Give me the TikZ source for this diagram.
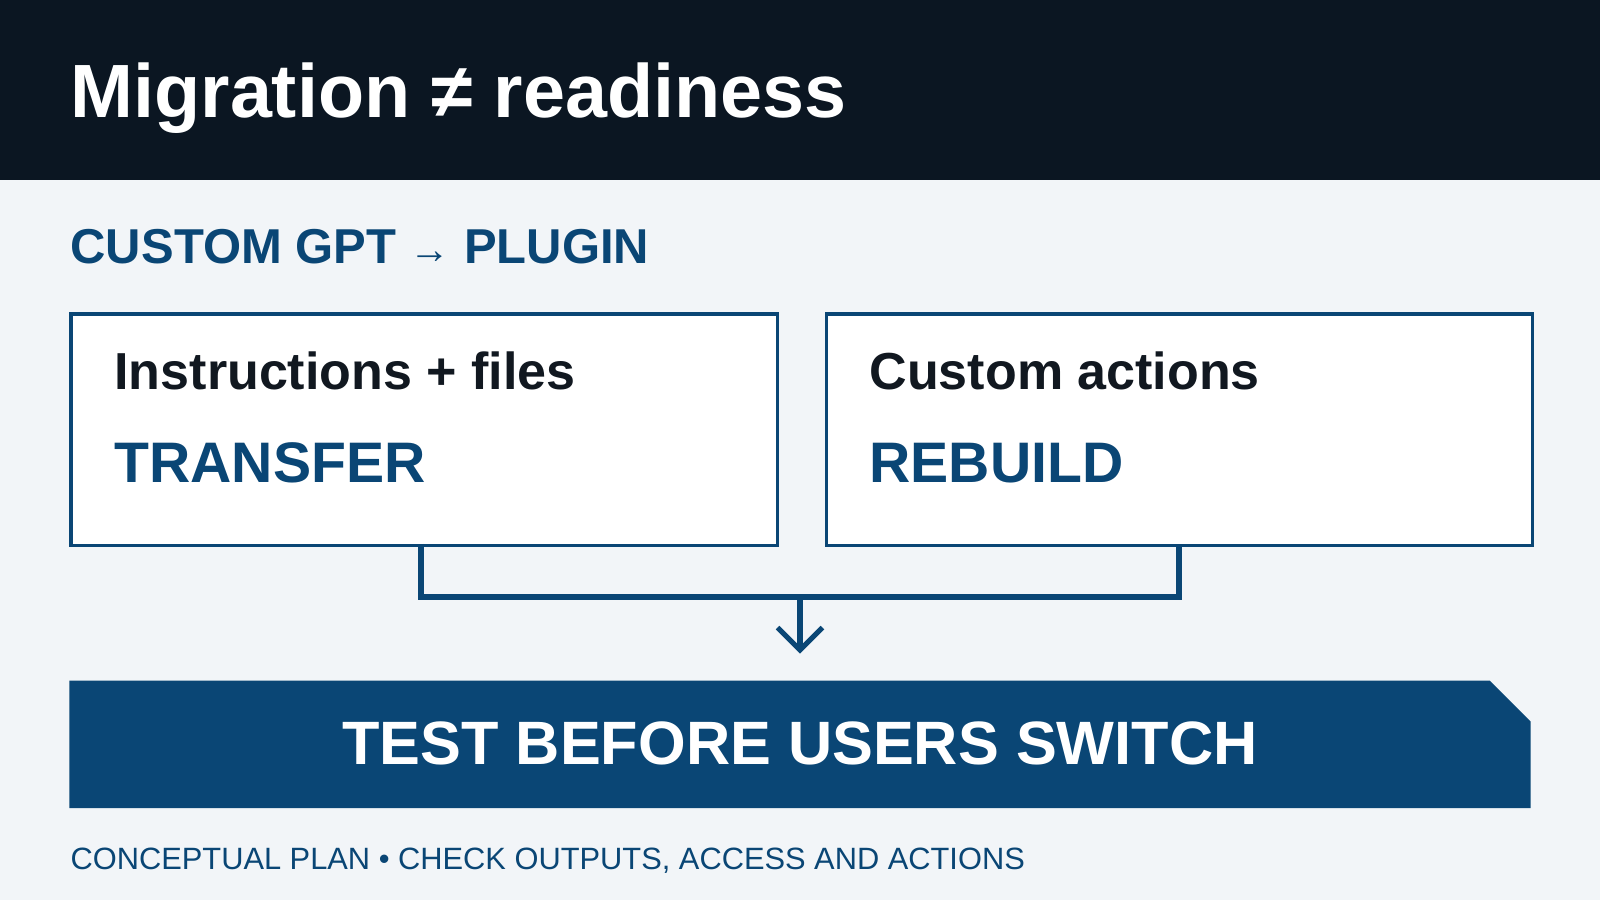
\documentclass[tikz,border=0pt]{standalone}
\usepackage{fontspec}
\setmainfont{Liberation Sans}
\definecolor{bg}{HTML}{F2F5F8}
\definecolor{dark}{HTML}{0B1622}
\definecolor{blu}{HTML}{0A4675}
\definecolor{ink}{HTML}{111820}
\begin{document}
\begin{tikzpicture}[x=1pt,y=-1pt,
  box/.style={draw=blu,line width=3.5pt,fill=white},
  lbl/.style={anchor=base west,inner sep=0pt,font=\bfseries},
  conn/.style={draw=blu,line width=6pt}]
\useasboundingbox (0,0) rectangle (1568,882);
\fill[bg] (0,0) rectangle (1568,882);
\fill[dark] (0,0) rectangle (1568,176);
\node[lbl,text=white,font=\fontsize{74}{84}\selectfont\bfseries] (title) at (69,115) {Migration ≠ readiness};
\node[lbl,text=blu,font=\fontsize{48}{56}\selectfont\bfseries] (sub) at (69,258) {CUSTOM GPT {\fontsize{40}{44}\selectfont\mdseries →} PLUGIN};
\node[box,minimum width=692,minimum height=227,anchor=north west] (L) at (68,306) {};
\node[box,minimum width=692,minimum height=227,anchor=north west] (R) at (808,306) {};
\node[lbl,text=ink,font=\fontsize{51}{58}\selectfont\bfseries] (l1) at (112,382) {Instructions + files};
\node[lbl,text=blu,font=\fontsize{56}{64}\selectfont\bfseries] (l2) at (112,473) {TRANSFER};
\node[lbl,text=ink,font=\fontsize{51}{58}\selectfont\bfseries] (r1) at (852,382) {Custom actions};
\node[lbl,text=blu,font=\fontsize{56}{64}\selectfont\bfseries] (r2) at (852,473) {REBUILD};
\coordinate (lb) at (413,533);
\coordinate (rb) at (1155,533);
\coordinate (mid) at (784,585);
\coordinate (tip) at (784,637);
\draw[conn,line join=miter] (lb) -- (lb|-mid) -- (rb|-mid) -- (rb);
\draw[conn] (mid) -- (tip);
\draw[blu,line width=5pt] (762,615) -- (tip) -- (806,615);
\fill[blu] (68,667) -- (1460,667) -- (1500,707) -- (1500,792) -- (68,792) -- cycle;
\node[text=white,font=\fontsize{60}{70}\selectfont\bfseries,anchor=base,inner sep=0pt] (test) at (784,749) {TEST BEFORE USERS SWITCH};
\node[lbl,text=blu,font=\fontsize{30.2}{36}\selectfont] (foot) at (69,852) {CONCEPTUAL PLAN • CHECK OUTPUTS, ACCESS AND ACTIONS};
\end{tikzpicture}
\end{document}
